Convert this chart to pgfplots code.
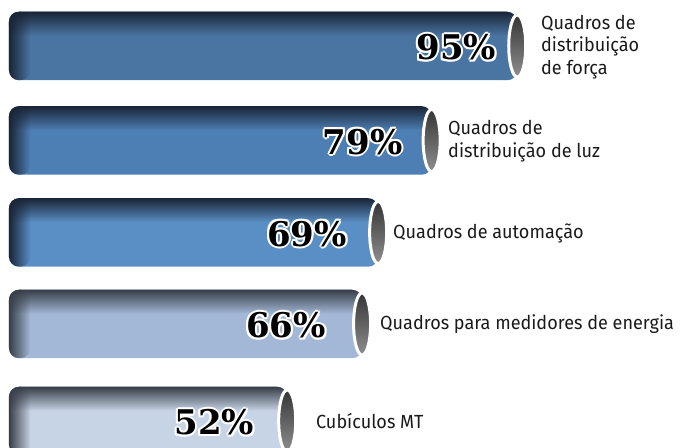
\documentclass[border=0pt]{standalone}
\usepackage{pgfplots}
\pgfplotsset{compat=1.18}
\usepackage{fontspec}
\setmainfont{Fira Sans}[FakeStretch=0.95]
\newfontfamily\numfont{DejaVu Serif}
\usetikzlibrary{shapes.geometric,fadings}

\definecolor{cA}{HTML}{4A75A2}
\definecolor{cB}{HTML}{4E7FB4}
\definecolor{cC}{HTML}{5A8FC6}
\definecolor{cD}{HTML}{A3B8D6}
\definecolor{cE}{HTML}{C7D4E6}
\definecolor{dBlue}{HTML}{1A2537}
\definecolor{dGray}{HTML}{383E48}
\definecolor{capT}{HTML}{363636}
\definecolor{capB}{HTML}{8E8E8E}
\definecolor{txt}{HTML}{1A1A1A}

% white outline around the percentage numbers
\newcommand\hc[3]{\rlap{\kern#1\raise#2\hbox{\color{white}#3}}}
\newcommand\halo[1]{\hc{2bp}{0bp}{#1}\hc{-2bp}{0bp}{#1}\hc{0bp}{2bp}{#1}\hc{0bp}{-2bp}{#1}%
  \hc{1.5bp}{1.5bp}{#1}\hc{-1.5bp}{1.5bp}{#1}\hc{1.5bp}{-1.5bp}{#1}\hc{-1.5bp}{-1.5bp}{#1}#1}

\pgfplotsset{
  body/.style={xbar, bar width=68.5, bar shift=0pt, draw=none, fill=#1, rounded corners=10bp},
  leftdark/.style={xbar, bar width=68.5, bar shift=0pt, draw=none, fill=#1, path fading=east, rounded corners=10bp},
  topdark/.style={xbar, bar width=24, bar shift=0pt, draw=none, fill=#1, path fading=south, rounded corners=10bp},
  pct/.style={draw=none, mark=none, point meta=x,
    nodes near coords={\halo{\pgfmathprintnumber[assume math mode=true]{\pgfplotspointmeta}\%}},
    every node near coord/.style={anchor=east, xshift=#1, yshift=-1.5bp, inner sep=0pt,
      font=\numfont\bfseries\fontsize{34bp}{34bp}\selectfont, text=black}},
}

\begin{document}
\begin{tikzpicture}
\path[use as bounding box, clip] (0,0) rectangle (681bp,448bp);
\begin{axis}[
    at={(0,0)}, anchor=south west,
    scale only axis, width=681bp, height=448bp,
    xmin=-1.682, xmax=125.61, ymin=0, ymax=448,
    hide axis,
]
% bars
\addplot[body=cA] coordinates {(95,402)};
\addplot[leftdark=dBlue] coordinates {(4,402)};
\addplot[topdark=dBlue] coordinates {(95,424.25)};

\addplot[body=cB] coordinates {(79,307.5)};
\addplot[leftdark=dBlue] coordinates {(4,307.5)};
\addplot[topdark=dBlue] coordinates {(79,329.75)};

\addplot[body=cC] coordinates {(69,215.5)};
\addplot[leftdark=dBlue] coordinates {(4,215.5)};
\addplot[topdark=dBlue] coordinates {(69,237.75)};

\addplot[body=cD] coordinates {(66,124)};
\addplot[leftdark=dGray] coordinates {(4,124)};
\addplot[topdark=dGray] coordinates {(66,146.25)};

\addplot[body=cE] coordinates {(52,27)};
\addplot[leftdark=dGray] coordinates {(4,27)};
\addplot[topdark=dGray] coordinates {(52,49.25)};

% end caps of the cylinders
\addplot[draw=none, mark=none, nodes near coords={},
  every node near coord/.style={ellipse, anchor=center, inner sep=0pt,
    minimum width=17bp, minimum height=62bp, draw=white, line width=3bp,
    top color=capT, bottom color=capB}]
  coordinates {(95,402) (79,307.5) (69,215.5) (66,124) (52,27)};

% percentages
\addplot[pct=-21bp] coordinates {(95,402)};
\addplot[pct=-29bp] coordinates {(79,307.5)};
\addplot[pct=-31bp] coordinates {(69,215.5)};
\addplot[pct=-36bp] coordinates {(66,124)};
\addplot[pct=-33bp] coordinates {(52,27)};

% category labels
\begin{scope}[every node/.style={anchor=west, align=left, inner sep=0pt, text=txt,
    font=\fontsize{19bp}{22.5bp}\selectfont}]
\node at (axis cs:99.44,401) {Quadros de\\distribuição\\de força};
\node at (axis cs:82.06,307) {Quadros de\\distribuição de luz};
\node at (axis cs:71.78,215) {Quadros de automação};
\node at (axis cs:69.35,124) {Quadros para medidores de energia};
\node at (axis cs:57.38,27) {Cubículos MT};
\end{scope}
\end{axis}
\end{tikzpicture}
\end{document}
